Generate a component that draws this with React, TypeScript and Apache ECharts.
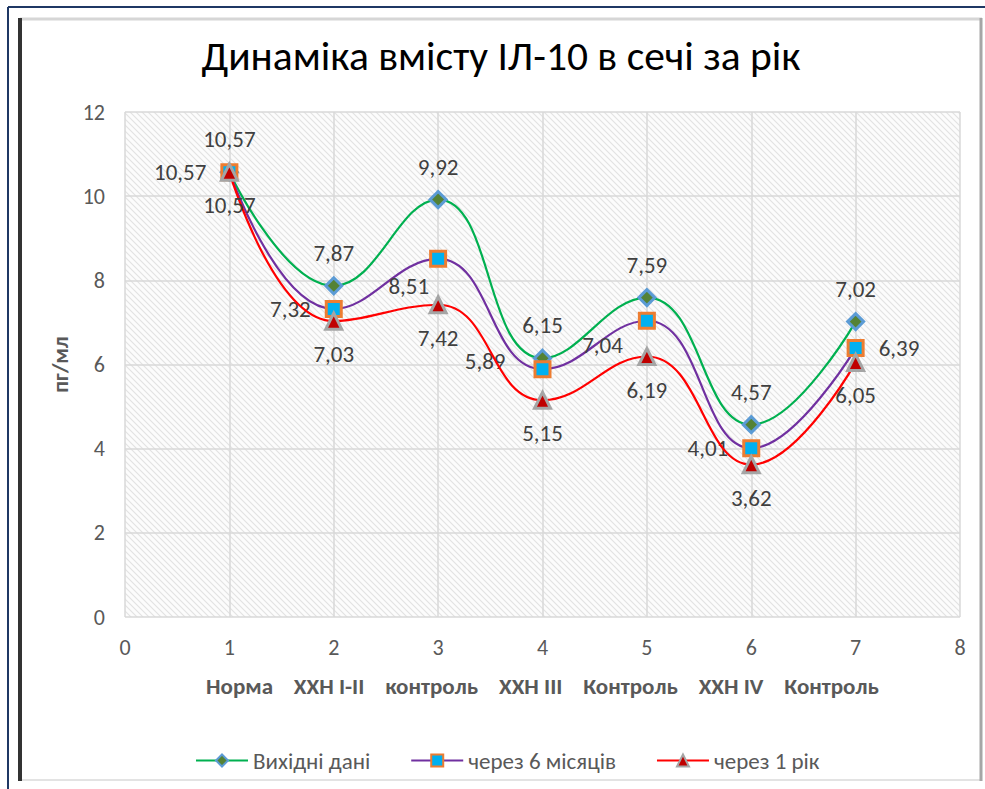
import React, { useEffect, useRef } from "react";
import * as echarts from "echarts";

const titleText = "Динаміка вмісту ІЛ-10 в сечі за рік";
const yAxisTitle = "пг/мл";
const categoryLabels = ["Норма", "ХХН I-II", "контроль", "ХХН III", "Контроль", "ХХН IV", "Контроль"];
const xValues = [1, 2, 3, 4, 5, 6, 7];
const seriesNames = ["Вихідні дані", "через 6 місяців", "через 1 рік"];
const baseline = [10.57, 7.87, 9.92, 6.15, 7.59, 4.57, 7.02];
const sixMonths = [10.57, 7.32, 8.51, 5.89, 7.04, 4.01, 6.39];
const oneYear = [10.57, 7.03, 7.42, 5.15, 6.19, 3.62, 6.05];

const FONT = "Carlito, 'Liberation Sans Narrow', 'Noto Sans', sans-serif";

const fmt = (v: number) => v.toFixed(2).replace(".", ",");

const hatch =
  "data:image/svg+xml;utf8," +
  encodeURIComponent(
    "<svg xmlns='http://www.w3.org/2000/svg' width='6' height='6'><rect width='6' height='6' fill='#fcfcfc'/><path d='M-1,-1 L7,7 M-1,5 L1,7 M5,-1 L7,1' stroke='#e2e2e2' stroke-width='1.1'/></svg>"
  );

export default function App() {
  const ref = useRef<HTMLDivElement>(null);
  useEffect(() => {
    if (!ref.current) return;
    const chart = echarts.init(ref.current, null, { renderer: "svg" });
    const pairs = (vals: number[]) => xValues.map((x, i) => [x, vals[i]]);
    const labelBase = {
      show: true,
      fontFamily: FONT,
      fontSize: 23,
      color: "#404040",
      formatter: (p: any) => fmt(p.value[1]),
    };
    const purplePos = ["left", "left", "left", "left", "left", "left", "right"];
    const purpleOff = [[0, 0], [0, 0], [14, 27], [-14, -8], [-1, 24], [0, 0], [0, 0]];

    chart.setOption({
      animation: false,
      backgroundColor: "#ffffff",
      title: {
        text: titleText,
        left: 496,
        textAlign: "center",
        top: 29,
        textStyle: { fontFamily: FONT, fontSize: 41.5, fontWeight: "normal", color: "#000" },
      },
      graphic: [
        { type: "line", shape: { x1: 8, y1: 7, x2: 985, y2: 7 }, style: { stroke: "#1F3864", lineWidth: 2 } },
        { type: "line", shape: { x1: 8, y1: 7, x2: 8, y2: 789 }, style: { stroke: "#1F3864", lineWidth: 2 } },
        { type: "line", shape: { x1: 20, y1: 19, x2: 982, y2: 19 }, style: { stroke: "#D6D6D6", lineWidth: 3 } },
        { type: "line", shape: { x1: 20, y1: 780, x2: 982, y2: 780 }, style: { stroke: "#E3E3E3", lineWidth: 2 } },
        { type: "line", shape: { x1: 981, y1: 18, x2: 981, y2: 781 }, style: { stroke: "#A6A6A6", lineWidth: 3 } },
        { type: "line", shape: { x1: 20, y1: 18, x2: 20, y2: 781 }, style: { stroke: "#333333", lineWidth: 4 } },
      ],
      grid: {
        left: 125,
        right: 25,
        top: 112,
        bottom: 172,
        show: true,
        borderWidth: 0,
        backgroundColor: { image: hatch, repeat: "repeat", imageWidth: 6, imageHeight: 6 },
      },
      legend: {
        left: 190,
        top: 744,
        itemWidth: 52,
        itemHeight: 15,
        itemGap: 40,
        textStyle: { fontFamily: FONT, fontSize: 23, color: "#595959" },
        data: seriesNames,
      },
      xAxis: {
        type: "value",
        min: 0,
        max: 8,
        interval: 1,
        name: categoryLabels.join("    "),
        nameLocation: "middle",
        nameGap: 57,
        nameTextStyle: { fontFamily: FONT, fontSize: 23, fontWeight: "bold", color: "#595959" },
        axisLine: { show: false },
        axisTick: { show: false },
        axisLabel: { fontFamily: FONT, fontSize: 22, color: "#595959", margin: 19 },
        splitLine: { show: true, lineStyle: { color: "#D9D9D9", width: 1.5 } },
      },
      yAxis: {
        type: "value",
        min: 0,
        max: 12,
        interval: 2,
        name: yAxisTitle,
        nameLocation: "middle",
        nameGap: 52,
        nameTextStyle: { fontFamily: FONT, fontSize: 22, fontWeight: "bold", color: "#595959" },
        axisLine: { show: false },
        axisTick: { show: false },
        axisLabel: { fontFamily: FONT, fontSize: 22, color: "#595959", margin: 20 },
        splitLine: { show: true, lineStyle: { color: "#D9D9D9", width: 1.5 } },
      },
      series: [
        {
          name: seriesNames[0],
          type: "line",
          smooth: 0.45,
          data: pairs(baseline),
          symbol: "diamond",
          symbolSize: 16,
          lineStyle: { color: "#00B050", width: 2.2 },
          itemStyle: { color: "#548235", borderColor: "#5B9BD5", borderWidth: 3 },
          label: { ...labelBase, position: "top", distance: 12 },
          z: 3,
        },
        {
          name: seriesNames[1],
          type: "line",
          smooth: 0.45,
          data: pairs(sixMonths).map((d, i) => ({
            value: d,
            label: { position: purplePos[i], offset: purpleOff[i] },
          })),
          symbol: "rect",
          symbolSize: 15,
          lineStyle: { color: "#7030A0", width: 2.2 },
          itemStyle: { color: "#00B0F0", borderColor: "#ED7D31", borderWidth: 3 },
          label: { ...labelBase, position: "left", distance: 14 },
          z: 4,
        },
        {
          name: seriesNames[2],
          type: "line",
          smooth: 0.45,
          data: pairs(oneYear),
          symbol: "triangle",
          symbolSize: 16,
          lineStyle: { color: "#FF0000", width: 2.2 },
          itemStyle: { color: "#C00000", borderColor: "#A5A5A5", borderWidth: 3 },
          label: { ...labelBase, position: "bottom", distance: 12 },
          z: 5,
        },
      ],
    });
    return () => chart.dispose();
  }, []);
  return (
    <div
      ref={ref}
      style={{ position: "absolute", left: 0, top: 0, width: 985, height: 789 }}
    />
  );
}
